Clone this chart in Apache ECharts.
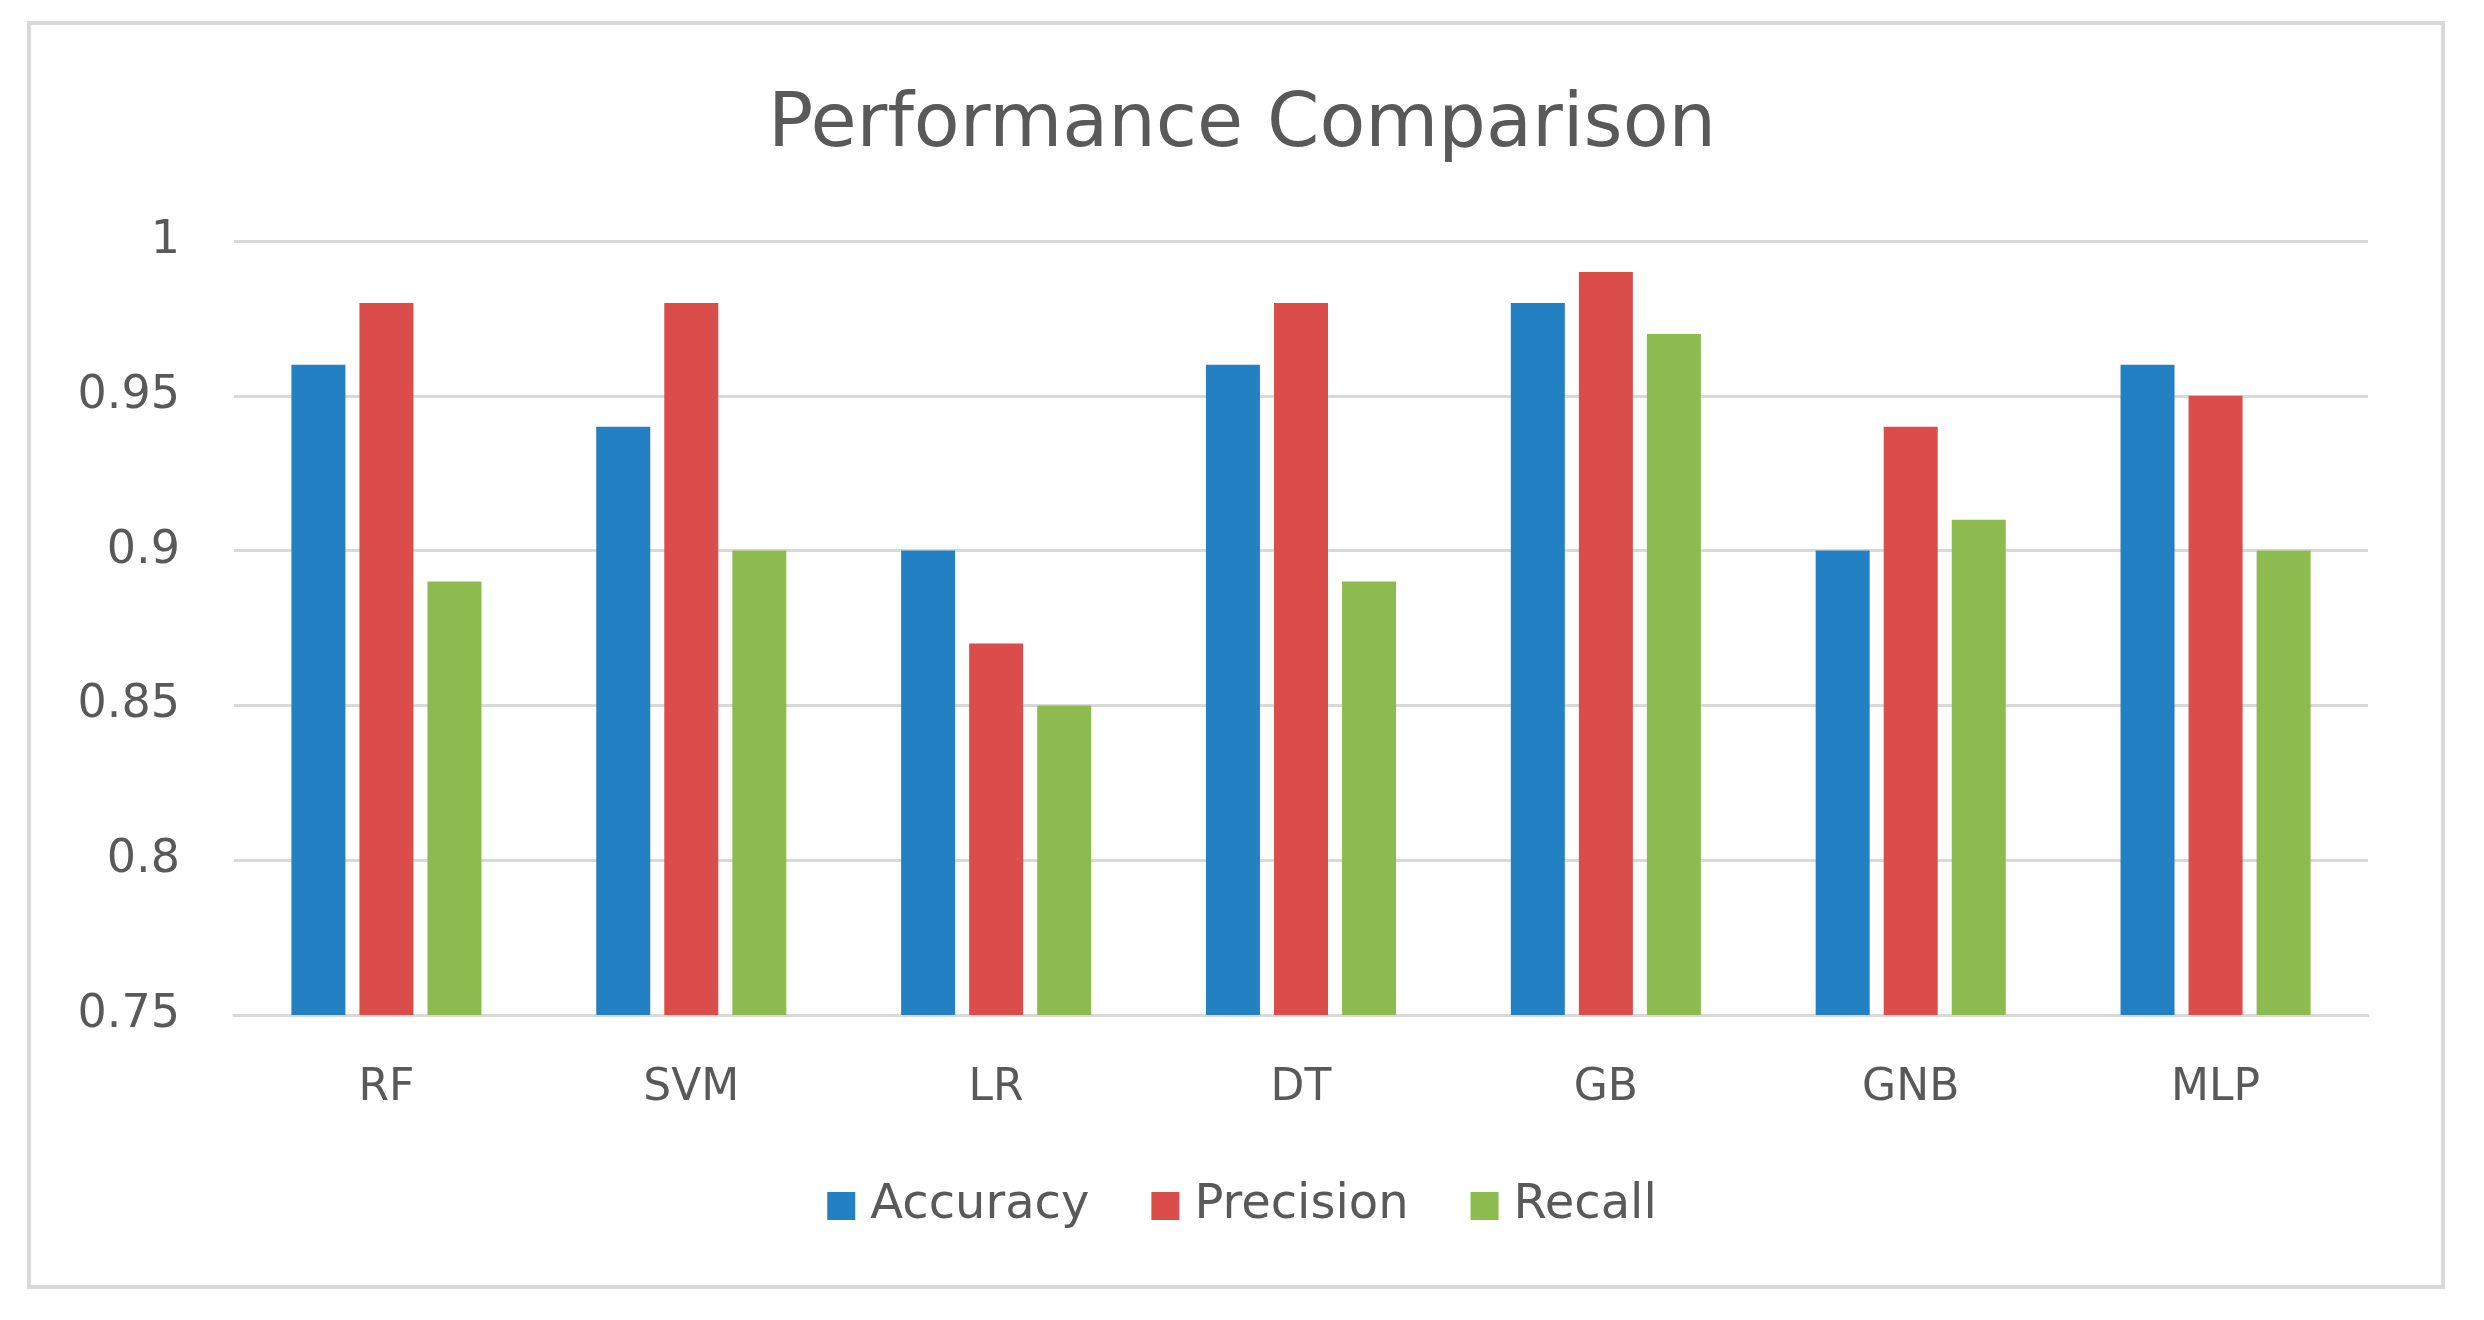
<!DOCTYPE html>
<html><head><meta charset="utf-8">
<script src="https://cdn.jsdelivr.net/npm/echarts@6/dist/echarts.min.js"></script>
<style>html,body{margin:0;padding:0;background:#fff}#c{width:2484px;height:1320px}</style>
</head><body><div id="c"></div>
<script>
var categories = ['RF','SVM','LR','DT','GB','GNB','MLP'];
var accuracy  = [0.96,0.94,0.90,0.96,0.98,0.90,0.96];
var precision = [0.98,0.98,0.87,0.98,0.99,0.94,0.95];
var recall    = [0.89,0.90,0.85,0.89,0.97,0.91,0.90];
var seriesNames = ['Accuracy','Precision','Recall'];
var titleText = 'Performance Comparison';

var font = 'DejaVu Sans';
var txt = '#595959';
var chart = echarts.init(document.getElementById('c'));
function bar(name, data, color){
  return {name:name,type:'bar',data:data,barWidth:54,barGap:'26%',
    itemStyle:{color:color}};
}
chart.setOption({
  backgroundColor:'#fff',
  animation:false,
  graphic:[{type:'rect',shape:{x:29,y:23,width:2414,height:1264},
    style:{fill:'none',stroke:'#d9d9d9',lineWidth:4},silent:true}],
  title:{text:titleText,left:'center',top:84,
    textStyle:{fontFamily:font,fontSize:75,fontWeight:'normal',color:txt}},
  legend:{bottom:85,left:'center',itemWidth:28,itemHeight:28,itemGap:62,icon:'rect',
    textStyle:{fontFamily:font,fontSize:48,color:txt,padding:[0,0,0,10]},
    data:seriesNames},
  grid:{left:234,right:116,top:241,bottom:305,containLabel:false},
  xAxis:{type:'category',data:categories,
    axisLine:{show:true,lineStyle:{color:'#d9d9d9',width:3}},
    axisTick:{show:false},
    axisLabel:{fontFamily:font,fontSize:44,color:txt,margin:52}},
  yAxis:{type:'value',min:0.75,max:1,interval:0.05,
    axisLine:{show:false},axisTick:{show:false},
    splitLine:{lineStyle:{color:'#d9d9d9',width:3}},
    axisLabel:{fontFamily:font,fontSize:46,color:txt,margin:54,
      formatter:function(v){return String(+v.toFixed(2));}}},
  series:[bar(seriesNames[0],accuracy,'#2380c2'),
          bar(seriesNames[1],precision,'#db4d4b'),
          bar(seriesNames[2],recall,'#8dbb4f')]
});
</script></body></html>
